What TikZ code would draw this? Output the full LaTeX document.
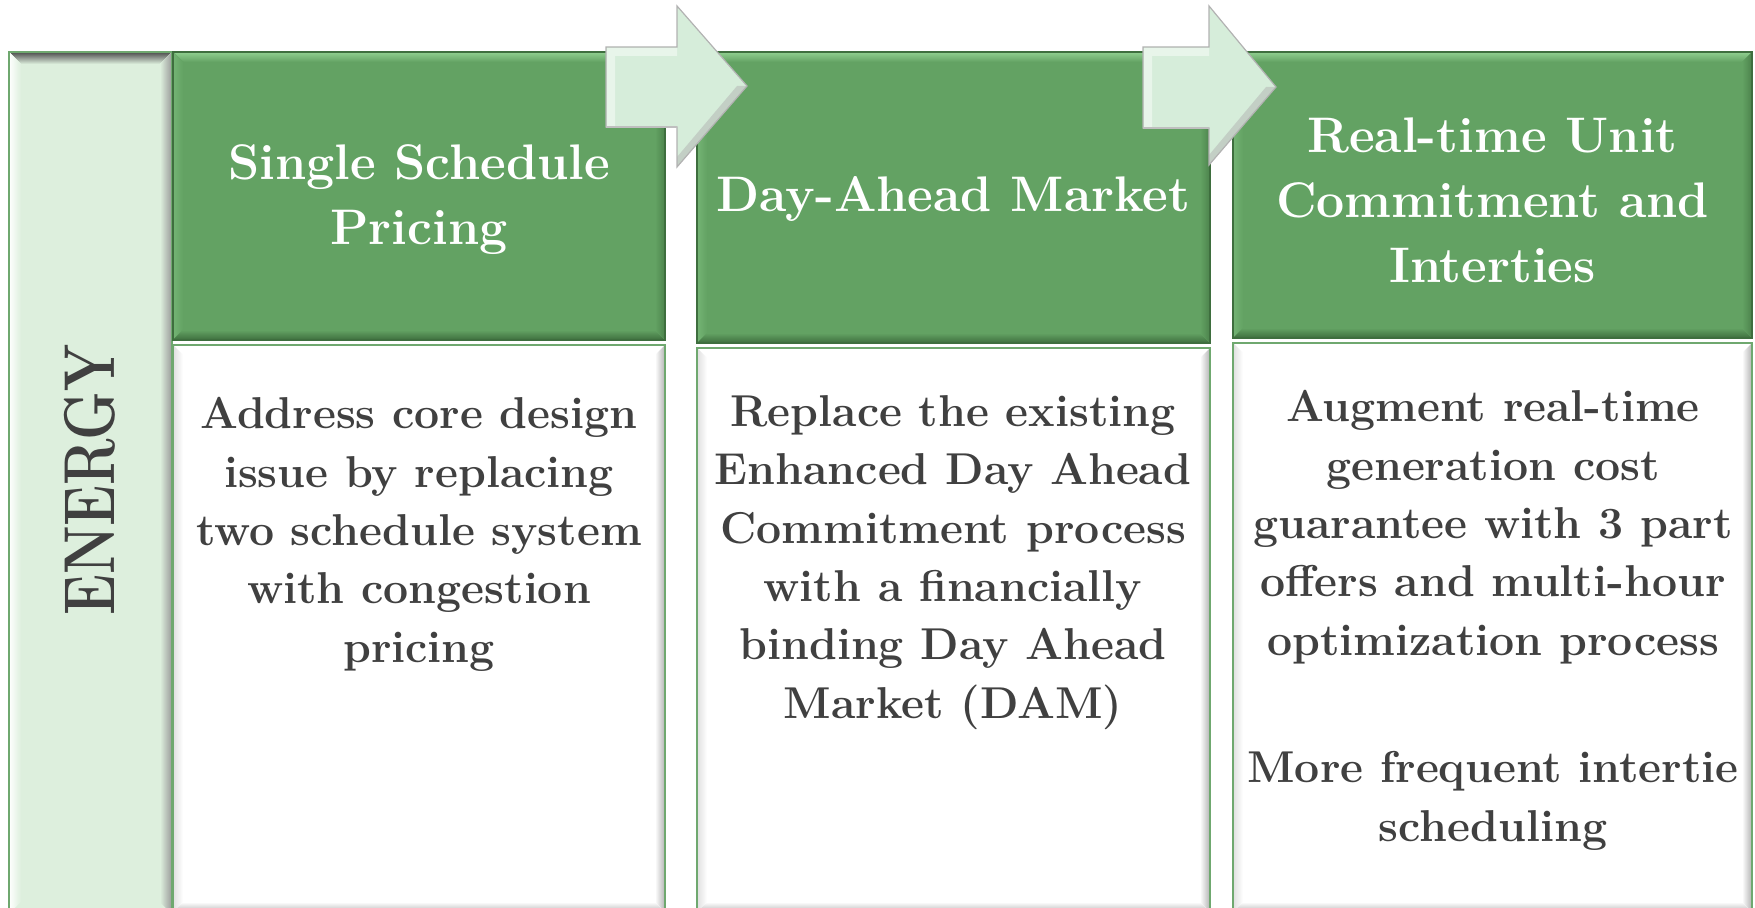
\documentclass[tikz,border=0pt]{standalone}
\usepackage{fontspec}
\usetikzlibrary{calc,fit}
\definecolor{hdr}{HTML}{63A263}
\definecolor{hdrL}{HTML}{8FCF8F}
\definecolor{hdrM}{HTML}{74B474}
\definecolor{hdrD}{HTML}{3E6E3E}
\definecolor{hdrR}{HTML}{4C834C}
\definecolor{egy}{HTML}{DDEFDD}
\definecolor{arw}{HTML}{D6EDDA}
\definecolor{txt}{HTML}{404040}
\definecolor{edge}{HTML}{6FA86F}
\tikzset{
  bevel/.style n args={5}{path picture={
    \path (path picture bounding box.north west) coordinate (pp1)
          (path picture bounding box.south east) coordinate (pp2);
    \fill[#1] let \p1=(pp1),\p2=(pp2) in (\x1,\y1) -- (\x2,\y1) -- (\x2-#5,\y1-#5) -- (\x1+#5,\y1-#5) -- cycle;
    \fill[#2] let \p1=(pp1),\p2=(pp2) in (\x1,\y1) -- (\x1+#5,\y1-#5) -- (\x1+#5,\y2+#5) -- (\x1,\y2) -- cycle;
    \fill[#3] let \p1=(pp1),\p2=(pp2) in (\x1,\y2) -- (\x1+#5,\y2+#5) -- (\x2-#5,\y2+#5) -- (\x2,\y2) -- cycle;
    \fill[#4] let \p1=(pp1),\p2=(pp2) in (\x2,\y1) -- (\x2,\y2) -- (\x2-#5,\y2+#5) -- (\x2-#5,\y1-#5) -- cycle;
  }},
  hdrbox/.style={inner sep=0pt, fill=hdr, draw=hdrD, line width=0.6pt,
    bevel={top color=hdrL,bottom color=hdr}{left color=hdrM,right color=hdr}{top color=hdr,bottom color=hdrD}{left color=hdr,right color=hdrR}{5pt}},
  bodybox/.style={inner sep=0pt, fill=white, draw=edge, line width=0.8pt,
    bevel={fill=white}{left color=gray!25,right color=white}{top color=white,bottom color=gray!55}{left color=white,right color=gray!60}{5pt}},
  egybox/.style={inner sep=0pt, fill=egy, draw=edge, line width=0.8pt,
    bevel={top color=black!70,bottom color=egy}{left color=white,right color=egy}{fill=egy}{left color=egy,right color=gray!80}{6pt}},
  hdrtext/.style={text=white, align=center, inner sep=0pt,
    font=\bfseries\fontsize{25pt}{32.5pt}\selectfont},
  bodytext/.style={text=txt, align=center, inner sep=0pt, anchor=north,
    font=\bfseries\fontsize{22.3pt}{29.2pt}\selectfont},
  arrowshape/.style={fill=arw, draw=gray!60, line width=0.6pt},
}
\begin{document}
\begin{tikzpicture}[x=0.5pt,y=-0.5pt]
\useasboundingbox (0,0) rectangle (1755,908);
% ENERGY bar
\node[egybox, fit={(9,52)(172,914)}] (egy) {};
\node[text=txt, rotate=90, inner sep=0pt, font=\bfseries\fontsize{36pt}{40pt}\selectfont] (egyt) at (90,480) {\scalebox{0.77}[1]{ENERGY}};
% column boxes
\node[hdrbox, fit={(173,52)(665,340)}] (h1) {};
\node[bodybox, fit={(173,345)(665,912)}] (b1) {};
\node[hdrbox, fit={(697,52)(1210,343)}] (h2) {};
\node[bodybox, fit={(697,348)(1210,912)}] (b2) {};
\node[hdrbox, fit={(1233,52)(1752,338)}] (h3) {};
\node[bodybox, fit={(1233,343)(1752,912)}] (b3) {};
% arrows
\draw[arrowshape] (606,47) -- (677,47) -- (677,6) -- (747,86) -- (677,167) -- (677,127) -- (606,127) -- cycle;
\draw[arrowshape] (1143,47) -- (1209,47) -- (1209,6) -- (1276,87) -- (1209,165) -- (1209,128) -- (1143,128) -- cycle;
\fill[white, opacity=0.45] (607,48) -- (677,48) -- (677,56) -- (615,56) -- (615,126) -- (607,126) -- cycle;
\fill[white, opacity=0.45] (1144,48) -- (1209,48) -- (1209,56) -- (1152,56) -- (1152,127) -- (1144,127) -- cycle;
\fill[gray!60, opacity=0.5] (747,86) -- (677,167) -- (677,157) -- (737,86) -- cycle;
\fill[gray!60, opacity=0.5] (1276,87) -- (1209,165) -- (1209,155) -- (1266,87) -- cycle;
\draw[gray!50, line width=1.2pt] (606,127) -- (677,127);
\draw[gray!50, line width=1.2pt] (1143,128) -- (1209,128);
% header texts
\node[hdrtext] (h1t) at ($(h1.center)+(0,4)$) {Single Schedule\\Pricing};
\node[hdrtext] (h2t) at ($(h2.center)+(0,2)$) {Day-Ahead Market};
\node[hdrtext] (h3t) at ($(h3.center)+(0,5)$) {Real-time Unit\\Commitment and\\Interties};
% body texts
\node[bodytext] (b1t) at (419,397) {Address core design\\issue by replacing\\two schedule system\\with congestion\\pricing};
\node[bodytext] (b2t) at (953,395) {Replace the existing\\Enhanced Day Ahead\\Commitment process\\with a financially\\binding Day Ahead\\Market (DAM)};
\node[bodytext] (b3t) at (1493,390) {Augment real-time\\generation cost\\guarantee with 3 part\\offers and multi-hour\\optimization process};
\node[bodytext] (b3u) at (1493,751) {More frequent intertie\\scheduling};
\end{tikzpicture}
\end{document}
